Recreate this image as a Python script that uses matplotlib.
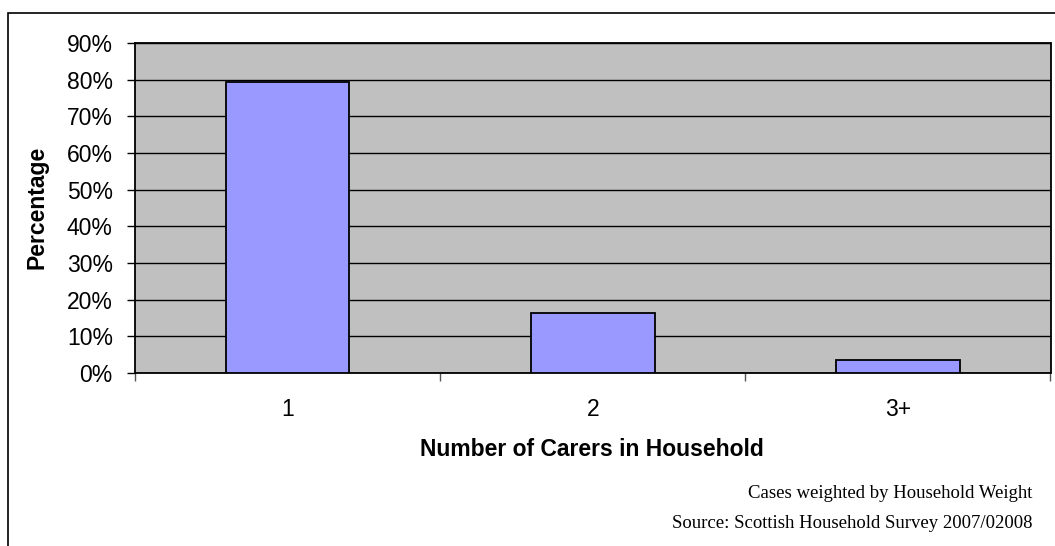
import matplotlib
matplotlib.use("Agg")
import matplotlib.pyplot as plt
from matplotlib.patches import Rectangle
from matplotlib.ticker import FixedLocator, NullFormatter

categories = ["1", "2", "3+"]
values = [79.4, 16.3, 3.6]
y_ticks = [0, 10, 20, 30, 40, 50, 60, 70, 80, 90]
y_tick_labels = [f"{v}%" for v in y_ticks]
x_label = "Number of Carers in Household"
y_label = "Percentage"
notes = ["Cases weighted by Household Weight", "Source: Scottish Household Survey 2007/02008"]

W, H = 1055, 546
fig = plt.figure(figsize=(W / 100, H / 100), dpi=100)
plt.rcParams['font.family'] = ['Liberation Sans', 'DejaVu Sans']

# outer frame (extends beyond right/bottom)
fig.patches.append(Rectangle((8 / W, -0.1), 1.2, (H - 13) / H + 0.1, transform=fig.transFigure,
                             fill=False, edgecolor='black', linewidth=1.2))

left, right, top, bottom = 135, 1050.5, 43, 373
ax = fig.add_axes([left / W, 1 - bottom / H, (right - left) / W, (bottom - top) / H])
ax.set_facecolor('#C0C0C0')

x = list(range(len(categories)))
ax.bar(x, values, width=0.405, color='#9999FF', edgecolor='black', linewidth=1.3, zorder=3)
ax.set_xlim(-0.5, len(categories) - 0.5)
ax.set_ylim(0, 90)

FS = 16.5
ax.set_yticks(y_ticks)
ax.set_yticklabels(y_tick_labels, fontsize=FS)
ax.yaxis.grid(True, color='black', linewidth=1.0, zorder=1)
ax.set_axisbelow(True)

ax.xaxis.set_major_locator(FixedLocator([i - 0.5 for i in range(len(categories) + 1)]))
ax.xaxis.set_major_formatter(NullFormatter())
ax.xaxis.set_minor_locator(FixedLocator(x))
ax.set_xticklabels(categories, minor=True, fontsize=FS)
ax.tick_params(axis='x', which='major', length=5.5, width=1, color='#555555')
ax.tick_params(axis='x', which='minor', length=0, pad=18)
ax.tick_params(axis='y', length=6, width=1, pad=10)

for s in ax.spines.values():
    s.set_color('black')
    s.set_linewidth(1.3)

fig.text(592 / W, 1 - 449 / H, x_label, ha='center', va='center', fontsize=FS, fontweight='bold')
fig.text(37 / W, 1 - 207 / H, y_label, ha='center', va='center', fontsize=FS, fontweight='bold',
         rotation=90)

fig.text(1032 / W, 1 - 494 / H, notes[0], ha='right', va='center', fontsize=13.5,
         family=['Liberation Serif', 'DejaVu Serif'])
fig.text(1032 / W, 1 - 523 / H, notes[1], ha='right', va='center', fontsize=13.5,
         family=['Liberation Serif', 'DejaVu Serif'])

fig.savefig('out.png', dpi=100)
